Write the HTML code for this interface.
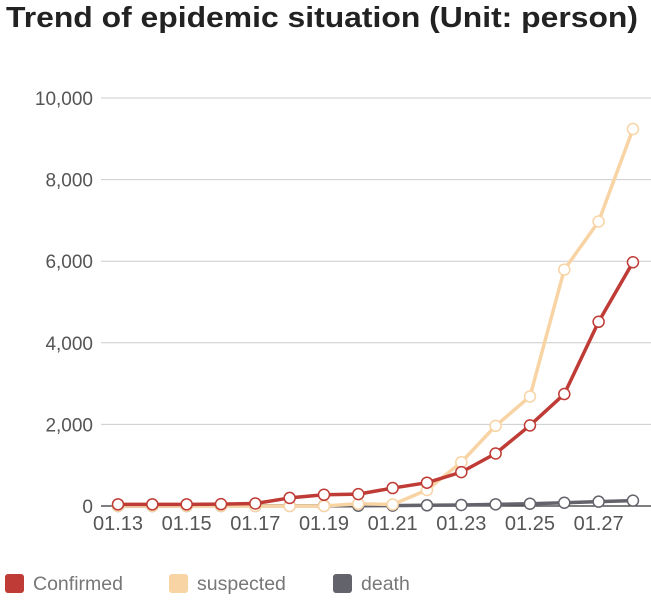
<!DOCTYPE html>
<html><head><meta charset="utf-8"><style>
body{margin:0;background:#fff;width:651px;height:597px;overflow:hidden;font-family:"Liberation Sans",sans-serif}
</style></head><body>
<svg id="chart" width="651" height="597" xmlns="http://www.w3.org/2000/svg">
<text x="6" y="27" font-size="29" font-weight="bold" fill="#222" textLength="632" lengthAdjust="spacingAndGlyphs" font-family="Liberation Sans, sans-serif">Trend of epidemic situation (Unit: person)</text>
<g id="grid"></g><g id="series"></g><g id="legend"></g>
</svg>
<script>
const categories=["01.13","01.14","01.15","01.16","01.17","01.18","01.19","01.20","01.21","01.22","01.23","01.24","01.25","01.26","01.27","01.28"];
const confirmed=[41,41,41,45,62,198,275,291,440,571,830,1287,1975,2744,4515,5974];
const suspected=[0,0,0,0,0,0,0,54,37,393,1072,1965,2684,5794,6973,9239];
const death=[1,1,2,2,2,3,4,6,9,17,25,41,56,80,106,132];
const yTicks=[0,2000,4000,6000,8000,10000];
const yTickLabels=["0","2,000","4,000","6,000","8,000","10,000"];
const NS="http://www.w3.org/2000/svg";
const x0=118,dx=34.33,yBase=506,yMax=10000,yTop=98;
function xs(i){return x0+i*dx;}
function ys(v){return yBase-(v/yMax)*(yBase-yTop);}
function mk(tag,attrs,parent){const e=document.createElementNS(NS,tag);for(const k in attrs)e.setAttribute(k,attrs[k]);parent.appendChild(e);return e;}
const grid=document.getElementById('grid');
yTicks.forEach((t,i)=>{
  if(t>0){const l=mk('line',{x1:101,x2:651,y1:ys(t),y2:ys(t),stroke:'#ccc','stroke-width':1},grid);
  
  }
  const tx=mk('text',{x:93,y:ys(t)+7,'text-anchor':'end','font-size':19,fill:'#555'},grid);
  tx.textContent=yTickLabels[i];
  
  
});
const ax=mk('line',{x1:101,x2:651,y1:yBase,y2:yBase,stroke:'#333','stroke-width':1.2},grid);


categories.forEach((c,i)=>{
  if(i%2)return;
  const tx=mk('text',{x:xs(i),y:530,'text-anchor':'middle','font-size':20,fill:'#555'},grid);
  tx.textContent=c;
  
  
});
const sg=document.getElementById('series');
function draw(data,color,name){
  const pts=data.map((v,i)=>xs(i)+','+ys(v)).join(' ');
  const pl=mk('polyline',{points:pts,fill:'none',stroke:color,'stroke-width':3.5,'stroke-linejoin':'round'},sg);
  
  
  data.forEach((v,i)=>{
    const c=mk('circle',{cx:xs(i),cy:ys(v),r:5.5,fill:'#fff',stroke:color,'stroke-width':1.5},sg);
    
    
  });
}
draw(death,'#63636b','death');
draw(suspected,'#f8d4a4','suspected');
draw(confirmed,'#bf3b35','confirmed');
const lg=document.getElementById('legend');
[['Confirmed','#bf3b35',5,33],['suspected','#f8d4a4',169,197],['death','#63636b',333,361]].forEach(d=>{
  const g=mk('g',{},lg);
  
  
  mk('rect',{x:d[2],y:574,width:19,height:19,rx:3,fill:d[1]},g);
  const t=mk('text',{x:d[3],y:590,'font-size':19.5,fill:'#777'},g);
  t.textContent=d[0];
});
</script>
</body></html>
